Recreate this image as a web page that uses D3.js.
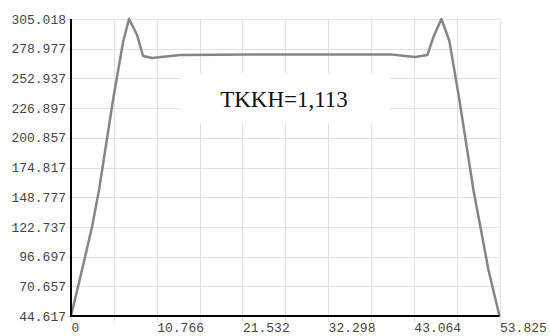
<!DOCTYPE html>
<html lang="en">
<head>
<meta charset="utf-8">
<title>TKKH profile</title>
<style type="text/css">
  body { margin: 0; background: white; }
  svg { display: block; }
  .grid line { stroke: #e0e0e0; stroke-width: 1px; }
  .axis text { font-family: "Liberation Mono", "Courier New", monospace; font-size: 13px; fill: #444; }
  .axis path, .axis line { display: none; }
  path.line { fill: none; stroke: #858585; stroke-width: 2.5px; stroke-linejoin: round; }
  .frame { stroke: black; stroke-width: 2px; }
  .note { font-family: "Liberation Serif", "Times New Roman", serif; font-size: 23px; fill: #111; }
</style>
</head>
<body>
<script src="https://cdnjs.cloudflare.com/ajax/libs/d3/7.8.5/d3.min.js"></script>
<script type="text/javascript">

var xValues = [0, 1.38, 2.64, 3.52, 5.28, 6.54, 7.29, 8.30, 9.05, 10.19, 13.71, 22.51,
               40.12, 42.0, 43.26, 44.77, 45.52, 46.53, 47.53, 48.79, 50.55, 51.43, 52.44, 53.825];
var yValues = [44.617, 84.95, 122.65, 155.1, 234.0, 284.9, 305.0, 291.0, 272.6, 270.8, 273.5, 274.0,
               274.0, 272.6, 271.7, 273.5, 289.2, 305.0, 285.7, 234.0, 155.1, 122.65, 84.95, 44.617];

var xTicks = [0, 10.766, 21.532, 32.298, 43.064, 53.825];
var yTicks = [44.617, 70.657, 96.697, 122.737, 148.777, 174.817, 200.857, 226.897, 252.937, 278.977, 305.018];

var noteText = "TKKH=1,113";

var width = 550, height = 336;
var margin = { top: 19, right: 50.5, bottom: 20, left: 71 };

var svg = d3.select("body").append("svg")
    .attr("width", width)
    .attr("height", height);

var xScale = d3.scaleLinear()
    .domain([0, 53.825])
    .range([margin.left, width - margin.right]);

var yScale = d3.scaleLinear()
    .domain([44.617, 305.018])
    .range([height - margin.bottom, margin.top]);

// vertical grid: every tick plus the midpoints between ticks
var xGrid = [];
xTicks.forEach(function(t, i) {
  xGrid.push(t);
  if (i < xTicks.length - 1) xGrid.push((t + xTicks[i + 1]) / 2);
});

var grid = svg.append("g").attr("class", "grid");

grid.selectAll("line.v")
  .data(xGrid)
  .enter().append("line")
    .attr("class", "v")
    .attr("x1", function(d) { return Math.round(xScale(d)) + 0.5; })
    .attr("x2", function(d) { return Math.round(xScale(d)) + 0.5; })
    .attr("y1", yScale.range()[1])
    .attr("y2", yScale.range()[0] + 7);

grid.selectAll("line.h")
  .data(yTicks)
  .enter().append("line")
    .attr("class", "h")
    .attr("x1", margin.left - 4)
    .attr("x2", xScale.range()[1])
    .attr("y1", function(d) { return Math.round(yScale(d)) + 0.5; })
    .attr("y2", function(d) { return Math.round(yScale(d)) + 0.5; });

// white label box over the grid
svg.append("rect")
  .attr("x", 180)
  .attr("y", 73)
  .attr("width", 210)
  .attr("height", 51)
  .attr("fill", "white");

svg.append("text")
  .attr("class", "note")
  .attr("x", 284)
  .attr("y", 107)
  .attr("text-anchor", "middle")
  .text(noteText);

var points = xValues.map(function(x, i) { return [x, yValues[i]]; });

var line = d3.line()
  .x(function(d) { return xScale(d[0]); })
  .y(function(d) { return yScale(d[1]); });

svg.append("path")
  .datum(points)
  .attr("class", "line")
  .attr("d", line);

// axes frame
svg.append("line").attr("class", "frame")
  .attr("x1", margin.left).attr("x2", margin.left)
  .attr("y1", yScale.range()[1]).attr("y2", yScale.range()[0] + 1);
svg.append("line").attr("class", "frame")
  .attr("x1", margin.left - 1).attr("x2", xScale.range()[1])
  .attr("y1", yScale.range()[0]).attr("y2", yScale.range()[0]);

var yAxis = d3.axisLeft(yScale)
  .tickValues(yTicks)
  .tickSize(0)
  .tickPadding(5)
  .tickFormat(function(d) { return d3.format(".3f")(d); });

svg.append("g")
  .attr("class", "y axis")
  .attr("transform", "translate(" + margin.left + ",0)")
  .call(yAxis);

var xAxis = d3.axisBottom(xScale)
  .tickValues(xTicks)
  .tickSize(0)
  .tickPadding(7)
  .tickFormat(function(d) { return d === 0 ? "0" : d3.format(".3f")(d); });

svg.append("g")
  .attr("class", "x axis")
  .attr("transform", "translate(0," + yScale.range()[0] + ")")
  .call(xAxis)
  .selectAll("text")
    .attr("text-anchor", "start");

</script>
</body>
</html>
